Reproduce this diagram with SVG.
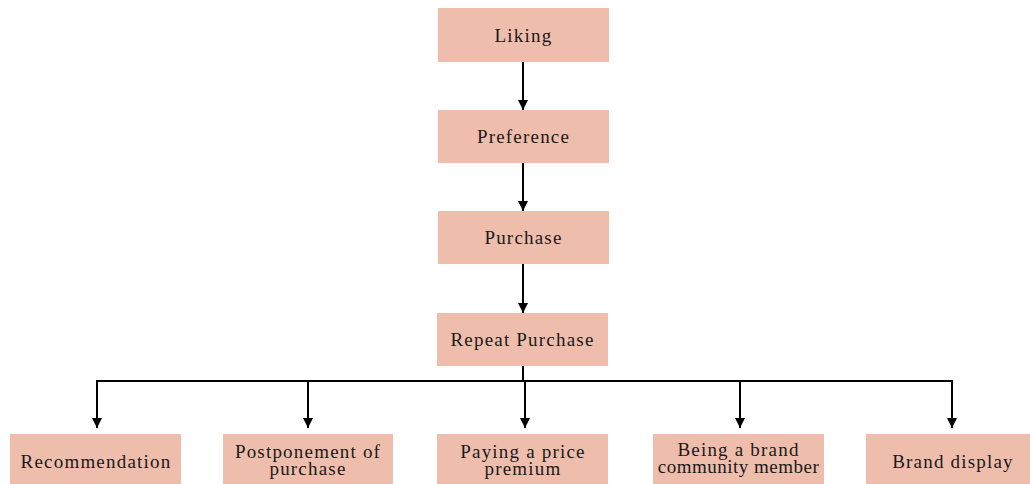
<svg xmlns="http://www.w3.org/2000/svg" width="1030" height="484" viewBox="0 0 1030 484">
  <style>
    .box { fill: #efbdab; }
    .lbl { font-family: "Liberation Serif", "Times New Roman", serif; font-size: 19px; fill: #1a1a1a; text-anchor: middle; letter-spacing: 1.2px; }
    .tight { letter-spacing: 0.5px; }
    .ln { stroke: #000; stroke-width: 2; fill: none; }
  </style>
  <defs>
    <marker id="arr" viewBox="0 0 10 10" refX="10" refY="5" markerWidth="5" markerHeight="5" orient="auto" markerUnits="strokeWidth">
      <path d="M0,0 L10,5 L0,10 z" fill="#000"/>
    </marker>
  </defs>

  <g id="connectors">
    <line class="ln" x1="523" y1="62" x2="523" y2="110" marker-end="url(#arr)"/>
    <line class="ln" x1="523" y1="162" x2="523" y2="211" marker-end="url(#arr)"/>
    <line class="ln" x1="523" y1="263" x2="523" y2="313" marker-end="url(#arr)"/>
    <line class="ln" x1="523" y1="366" x2="523" y2="381"/>
    <line class="ln" x1="96" y1="381" x2="953" y2="381"/>
    <line class="ln" x1="97" y1="380" x2="97" y2="428" marker-end="url(#arr)"/>
    <line class="ln" x1="308" y1="380" x2="308" y2="428" marker-end="url(#arr)"/>
    <line class="ln" x1="525" y1="380" x2="525" y2="428" marker-end="url(#arr)"/>
    <line class="ln" x1="740" y1="380" x2="740" y2="428" marker-end="url(#arr)"/>
    <line class="ln" x1="952" y1="380" x2="952" y2="428" marker-end="url(#arr)"/>
  </g>

  <g id="liking">
    <rect class="box" x="438" y="8" width="171" height="54"/>
    <text class="lbl" x="523.5" y="42">Liking</text>
  </g>
  <g id="preference">
    <rect class="box" x="438" y="110" width="171" height="53"/>
    <text class="lbl" x="523.5" y="143">Preference</text>
  </g>
  <g id="purchase">
    <rect class="box" x="438" y="211" width="171" height="53"/>
    <text class="lbl" x="523.5" y="244">Purchase</text>
  </g>
  <g id="repeat-purchase">
    <rect class="box" x="437" y="313" width="171" height="53"/>
    <text class="lbl" x="522.5" y="346">Repeat Purchase</text>
  </g>

  <g id="recommendation">
    <rect class="box" x="10" y="434" width="171" height="54"/>
    <text class="lbl" x="96" y="468">Recommendation</text>
  </g>
  <g id="postponement">
    <rect class="box" x="223" y="434" width="170" height="54"/>
    <text class="lbl" x="308" y="458">Postponement of</text>
    <text class="lbl" x="308" y="475">purchase</text>
  </g>
  <g id="price-premium">
    <rect class="box" x="437" y="434" width="171" height="54"/>
    <text class="lbl" x="523" y="458">Paying a price</text>
    <text class="lbl" x="523" y="475">premium</text>
  </g>
  <g id="community-member">
    <rect class="box" x="653" y="434" width="171" height="54"/>
    <text class="lbl" x="738.5" y="456">Being a brand</text>
    <text class="lbl tight" x="738.5" y="473">community member</text>
  </g>
  <g id="brand-display">
    <rect class="box" x="866" y="434" width="171" height="54"/>
    <text class="lbl" x="953" y="468">Brand display</text>
  </g>
</svg>
